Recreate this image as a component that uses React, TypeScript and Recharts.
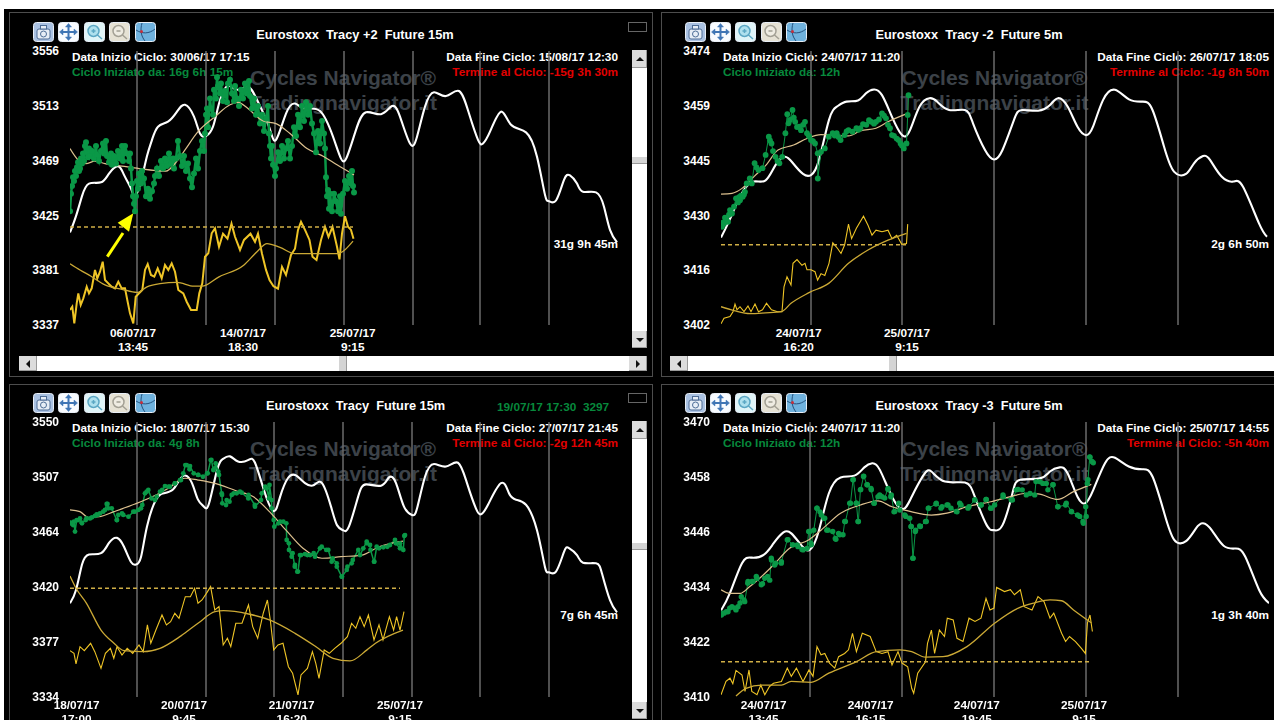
import { ComposedChart, Line, ReferenceLine, XAxis, YAxis } from "recharts";

type Pt = [number, number];

// panel 1: Tracy +2, 15m
const p1Ticks = ["3337", "3381", "3425", "3469", "3513", "3556"];
const p1Range = [3337, 3556];
const p1Grid = [67, 136, 205, 274, 343, 410, 479];
const p1BarTicks = [63, 173, 282.7];
const p1Dates = ["06/07/17", "14/07/17", "25/07/17"];
const p1Times = ["13:45", "18:30", "9:15"];
const p1Level = 3415.3;
const p1LevelEnd = 283;
const p1Cycle: Pt[] = [[0,3411],[6,3424],[12,3440],[19,3450],[31,3451],[39,3458],[48,3464],[54,3457],[61,3446],[65,3440],[71,3452],[77,3472],[82,3485],[88,3495.5],[98,3499.5],[107,3507.5],[115,3513],[124,3503.5],[130,3490],[136,3488],[143,3495.5],[149,3514],[155,3526],[160,3528],[168,3525],[178,3527.5],[187,3517],[199,3495.5],[206,3485],[216,3506],[225,3514],[235,3510],[250,3508],[263,3487.5],[271,3470],[277,3471.5],[286,3493],[296,3507],[311,3505.5],[322,3512],[330,3503.5],[340,3482],[347,3487.5],[355,3511.5],[364,3523],[376,3520],[389,3524],[399,3506],[408,3485],[413,3482],[420,3491.5],[431,3507.5],[441,3497],[456,3491],[467,3471.5],[475,3441],[479,3436],[486,3436.5],[494,3453],[500,3456.5],[507,3450],[513,3443.5],[526,3443],[534,3431.5],[540,3413],[547,3403]];
const p1Avg: Pt[] = [[0,3478],[8,3469],[16,3466],[25,3468],[35,3466],[52,3464],[69,3462],[96,3460],[105,3466],[115,3477],[128,3491.5],[145,3503.5],[160,3513],[168,3515],[178,3510],[193,3500],[206,3498],[220,3490],[237,3478],[254,3471.5],[267,3465],[284,3457]];
const p1SlowAvg: Pt[] = [[0,3386],[10,3381],[21,3376],[35,3369],[52,3365.5],[67,3363],[77,3367.5],[90,3370],[107,3371],[124,3368],[132,3368],[149,3375.5],[174,3385],[187,3395.5],[197,3402],[210,3399],[225,3394],[246,3394],[267,3394],[283,3404]];
const p1Osc: Pt[] = [[0,3349],[2.3,3351.6],[4.3,3338.3],[6.7,3354.3],[8.3,3362.3],[10.7,3353],[13.3,3358.3],[16.7,3367.6],[19,3362.3],[21.7,3366.3],[25,3381],[27.3,3374.3],[30,3379.6],[32.7,3387.6],[35,3373],[38.3,3370.3],[41.7,3367.6],[45,3366.3],[48.3,3371.6],[51.7,3366.3],[55,3366.3],[57.3,3357],[60,3346.3],[63.3,3338.3],[65.7,3359.6],[69,3362.3],[72.3,3365],[75,3381],[77.7,3385.7],[81,3377],[84.3,3375.6],[87.7,3382.3],[91.7,3374.3],[95,3385],[98.3,3381],[101.7,3386.3],[105,3379.6],[108.3,3365],[113.3,3362.3],[116.7,3355.6],[121,3349],[126.7,3349],[129.3,3362.3],[132.3,3370.3],[135,3391.6],[138.3,3394.3],[141.7,3410.3],[145,3414.3],[149,3399.5],[153,3410],[157.5,3406],[161.5,3418],[165,3407.5],[170,3397],[174,3405],[180.5,3410],[185,3403.5],[188,3410],[192,3394],[196,3381],[199.5,3373],[203.5,3368],[208,3366],[212,3383.5],[216,3377],[221,3393],[225,3398],[228,3413],[231,3419.5],[235,3413],[239.5,3405],[242.5,3391.5],[246.5,3389],[251,3405],[255,3415.5],[258.5,3407.5],[262.5,3415.5],[267,3399.5],[269.5,3389.5],[272,3410],[275,3424],[278,3415.5],[281,3413],[283.5,3406]];
const p1Price: Pt[] = [[0,3428],[1,3442],[2,3448],[3,3455],[4,3452],[5,3460],[6,3456],[7,3463],[8,3467],[9,3460],[10,3462],[11,3470],[12,3466],[13,3474],[14,3468],[15,3480],[16,3483],[17,3475],[18,3471],[19,3478],[20,3472],[22,3476],[24,3470],[26,3480],[27,3473],[29,3468],[31,3476],[33,3482],[34,3474],[36,3484],[37,3472],[39,3467],[41,3474],[42,3465],[44,3472],[46,3466],[48,3476],[50,3470],[52,3480],[53,3468],[55,3480],[57,3474],[59,3468],[60,3474],[61,3462],[62,3450],[63,3440],[64,3434],[65,3428],[66,3440],[67,3452],[68,3446],[69,3458],[71,3450],[72,3460],[74,3454],[76,3440],[78,3446],[80,3438],[82,3444],[84,3450],[85,3456],[87,3462],[89,3456],[91,3468],[93,3462],[95,3470],[97,3464],[99,3474],[101,3466],[103,3470],[104,3462],[106,3470],[108,3484],[110,3472],[112,3464],[114,3472],[116,3460],[118,3466],[120,3454],[122,3447],[124,3458],[126,3470],[128,3462],[130,3476],[132,3484],[134,3476],[135,3490],[136,3505],[137,3510],[138,3495],[140,3518],[141,3510],[143,3505],[144,3525],[146,3518],[147,3535],[148,3528],[150,3522],[151,3530],[153,3516],[155,3524],[157,3515],[158,3530],[160,3533],[162,3522],[164,3516],[165,3528],[167,3518],[169,3512],[171,3525],[173,3518],[175,3530],[177,3522],[179,3532],[180,3520],[182,3510],[184,3518],[186,3505],[188,3512],[190,3498],[192,3505],[194,3492],[196,3502],[198,3512],[199,3490],[200,3480],[201,3470],[202,3480],[203,3465],[205,3456],[206,3462],[208,3475],[210,3468],[212,3480],[214,3470],[216,3478],[218,3484],[220,3470],[222,3480],[224,3495],[226,3488],[228,3505],[230,3495],[232,3512],[234,3500],[236,3515],[238,3505],[240,3512],[242,3498],[244,3490],[246,3475],[248,3492],[250,3482],[252,3500],[254,3490],[255,3478],[256,3455],[257,3440],[258,3445],[259,3430],[260,3442],[262,3428],[264,3442],[266,3436],[268,3428],[270,3440],[271,3426],[273,3442],[275,3452],[277,3446],[279,3456],[281,3450],[282,3460],[283,3448],[284,3443]];

// panel 2: Tracy -2, 5m
const p2Ticks = ["3402", "3416", "3430", "3445", "3459", "3474"];
const p2Range = [3402, 3474];
const p2Grid = [90, 181, 273, 365, 457];
const p2BarTicks = [77.7, 186];
const p2Dates = ["24/07/17", "25/07/17"];
const p2Times = ["16:20", "9:15"];
const p2Level = 3423.1;
const p2LevelEnd = 185;
const p2Cycle: Pt[] = [[0,3425],[7,3428.7],[15,3433.5],[23,3437.5],[33,3439.7],[44.6,3440],[54.5,3444],[64,3446.2],[72,3444.5],[82,3441.7],[90,3441.4],[98,3445.4],[108,3455.9],[116,3459.4],[125.5,3460.7],[137,3461],[145,3462.9],[153,3463.9],[161,3462.4],[171,3456.7],[181,3451.9],[189,3453.2],[198.6,3459.4],[208.5,3461.6],[216,3460.7],[228,3458.5],[244,3458.5],[252,3455],[264,3448],[273,3445.5],[281.5,3448],[293,3455.9],[301,3458.5],[317,3458.3],[329,3459.8],[337,3461.6],[346.6,3459.4],[356.5,3454.1],[365,3451.9],[372,3454.1],[382,3461.1],[394,3463.8],[408,3461.3],[421.6,3460.7],[431.5,3458.5],[443,3448.9],[453,3442.3],[465,3441.7],[473,3444.5],[482,3446.4],[489,3445.4],[500.6,3441],[512.4,3439.7],[522,3438.3],[538,3428.7],[546,3425.2]];
const p2Avg: Pt[] = [[0,3436.4],[11,3436.6],[21,3437.9],[33,3441],[45,3444],[57,3448],[72.6,3449.3],[86,3451],[100,3452],[127.5,3451.7],[139.4,3453],[155,3453.7],[167,3455.4],[184.7,3457.4]];
const p2SlowAvg: Pt[] = [[0,3406.8],[13,3405.8],[29,3405],[44.6,3405.2],[60.4,3405.5],[70,3407.7],[88,3410.5],[108,3413],[127.5,3418.2],[147,3421.7],[167,3424.3],[185.5,3426.1]];
const p2Osc: Pt[] = [[0,3402.3],[3,3403.8],[9,3404.2],[12,3405.5],[14,3407.5],[16,3406],[19,3406.8],[23,3405.5],[27,3407],[30,3405.5],[34,3407.5],[37.5,3405.5],[41.5,3406],[45.5,3407.7],[50.5,3406],[56.5,3405.5],[61,3405.5],[63,3412],[66,3414.7],[70,3412.5],[72,3418.2],[76,3419.2],[81,3417.7],[84,3418.2],[86,3416.5],[90,3416.5],[94,3416],[96.6,3413.8],[100,3415.5],[103.8,3415],[108,3418.2],[111.8,3423.6],[116.6,3422.1],[120,3420.8],[123.6,3423],[127.5,3428.5],[130.6,3424.7],[135.4,3427.4],[142.5,3430.6],[147,3428.2],[151,3425.6],[155,3426.9],[161,3426.5],[167,3426.9],[171,3424.7],[175.7,3425.6],[180.8,3423.2],[185.5,3423.4],[186.7,3428.5]];
const p2Price: Pt[] = [[1,3427.8],[2,3428.9],[3,3428.7],[4,3430.2],[5,3430],[7,3429.1],[8,3431],[9,3432.2],[11,3431.3],[13,3433.1],[15,3435.3],[17,3434.2],[18,3435.6],[19,3434.8],[20,3436],[21.7,3435.7],[23,3436.3],[24,3437],[25.7,3439.2],[28.8,3440.5],[30.8,3439.2],[33.6,3444.5],[35.5,3443.4],[37.5,3442.7],[41.5,3443.2],[44.6,3446.7],[47.8,3451.5],[49,3450.5],[50.5,3449.7],[52,3447.7],[54.5,3446.2],[56.5,3445.1],[58.4,3444.5],[61.2,3446.2],[64.4,3452.4],[66.3,3457.4],[67.5,3455],[69,3455.9],[71.5,3458.5],[72.8,3456.5],[74.2,3455.4],[76,3454],[78.2,3454.1],[80,3453.2],[82,3454.6],[84,3455.4],[86,3452.4],[88,3451.6],[90,3450.6],[92,3450.3],[94,3449.7],[96.7,3447.1],[96.8,3440.5],[100,3447.5],[103.8,3448.4],[107.8,3451.5],[111.7,3452.4],[113.7,3451.8],[115.7,3452.4],[117.6,3451.4],[119.6,3450.6],[123.6,3451.9],[125.6,3452.9],[127.5,3453.2],[131.5,3452.8],[135.4,3453.7],[137.4,3453.3],[139.4,3453.7],[142,3454.8],[145.3,3454.6],[148,3455.8],[150.4,3455.4],[153,3454.9],[155,3455.4],[158,3456],[161,3457.6],[163,3457],[165,3456.3],[167,3454.6],[169,3453.7],[171,3451.9],[173,3451.7],[175.7,3451],[177.6,3450.6],[179.6,3449.7],[181,3449.2],[182.8,3448.4],[185.5,3449.7],[186.7,3457.2],[187.5,3462.4]];

// panel 3: Tracy, 15m
const p3Ticks = ["3334", "3377", "3420", "3464", "3507", "3550"];
const p3Range = [3334, 3550];
const p3Grid = [67, 136, 204, 273, 342, 410, 479];
const p3BarTicks = [6.6, 114, 221.7, 330];
const p3Dates = ["18/07/17", "20/07/17", "21/07/17", "25/07/17"];
const p3Times = ["17:00", "9:45", "16:20", "9:15"];
const p3Level = 3419.4;
const p3LevelEnd = 330;
const p3Cycle: Pt[] = [[0,3407.6],[6,3418],[12,3438],[19,3446],[31,3447],[39,3455],[47,3459],[54,3452],[61,3440],[66,3438],[71,3444],[77,3468],[86,3489],[94,3494],[103,3497],[109,3504],[115,3508],[122,3502],[128,3489],[134,3483.5],[139,3486],[147,3512],[153,3521],[160,3523],[168,3519],[178,3520],[185,3518],[195,3494],[204,3480],[210,3491],[218,3506],[226,3508],[235,3502],[244,3500.5],[252,3502],[261,3483.5],[267,3469],[273,3465],[279,3468],[288,3491],[296,3501],[311,3500],[319,3506.5],[326,3502],[334,3483.5],[342,3477],[347,3482],[355,3507],[364,3517],[376,3515],[388,3518],[397,3502],[406,3482],[411,3477.5],[418,3485],[431,3502],[439,3494],[446,3489],[456,3485],[467,3465],[475,3436],[479,3432],[486,3432.5],[494,3448],[499,3451],[507,3445.5],[513,3439.5],[526,3439],[532,3431],[540,3410],[547,3400.5]];
const p3Avg: Pt[] = [[0,3481],[10,3479.6],[18.5,3475],[29,3475.6],[44,3479.6],[65,3485.6],[86,3492.7],[98.5,3498],[115,3505.8],[128,3504.4],[145,3501.8],[166,3496],[183,3491.4],[199.5,3479.6],[216,3465],[233,3450.8],[252,3443],[271,3444.2],[292,3445.5],[309,3452],[333,3456.5]];
const p3SlowAvg: Pt[] = [[0,3429],[6,3419.4],[16.5,3407.6],[31,3386.6],[44,3376.2],[54,3370.4],[73.2,3369.6],[90,3372.2],[111,3382],[128,3391.9],[145,3401],[153.5,3401.8],[178.5,3399.2],[199.5,3394.5],[225,3384],[246,3373.5],[263,3364.4],[280,3362.3],[297,3371],[305.5,3376.2],[333,3386.6]];
const p3Osc: Pt[] = [[0,3370.4],[4,3368.3],[6,3360],[10,3373.5],[14.3,3370.4],[20.6,3376.2],[24.8,3369.6],[31,3356.5],[35.4,3368.3],[40.4,3372.2],[43.8,3364.4],[47,3373.5],[52,3367],[57.2,3372.2],[62.7,3368.3],[69,3374.9],[73.2,3369.6],[77.4,3390.6],[80.8,3376.2],[85.9,3386.6],[92,3398.4],[96.4,3390.6],[100.6,3393.2],[104.8,3399.7],[109,3395.8],[115.3,3412.8],[120.4,3412.8],[124.6,3419.4],[128,3407.6],[132,3410.2],[136.4,3415.4],[140.6,3420.7],[144.8,3402.3],[149,3405],[153.2,3374.9],[157.4,3380.1],[160.8,3373.5],[165.8,3391.9],[172,3391.9],[178.5,3406.3],[182.7,3389.3],[187.7,3380.1],[193.2,3399.7],[197.4,3410.2],[200.3,3394.5],[203.7,3370.9],[208,3374.9],[213,3376.2],[218.4,3357.8],[222.6,3352.6],[228,3335.6],[231,3351.3],[237.4,3356.5],[242.4,3369.6],[245.8,3360.5],[249,3348.7],[254.2,3370.9],[259.3,3368.3],[264.7,3372.2],[271,3376.2],[277.4,3381.4],[281.6,3391.9],[285.8,3388],[290,3397.1],[294.2,3389.3],[298.4,3398.4],[304,3378.8],[309,3390.6],[313,3378.8],[319.4,3397.1],[323.6,3386.6],[326.6,3397.1],[330,3386.6],[334,3401]];
const p3Price: Pt[] = [[1,3470.4],[4,3471.7],[5,3463.9],[8,3473],[12,3470.4],[16.4,3474.3],[22,3475.1],[27.8,3477],[33.2,3479.6],[37.5,3485.6],[41.7,3482.2],[47,3473],[52,3478.3],[58.5,3475.6],[64.8,3479.6],[71,3482.2],[76.6,3495.3],[81.6,3490],[86.7,3491.4],[92.2,3496.6],[98.5,3499.2],[104.8,3501.8],[111,3504.4],[115.3,3516.2],[119.5,3512.8],[123.7,3509.7],[128,3508.4],[133,3507],[137.2,3509.7],[141.4,3520.2],[144.8,3513.6],[149,3508.4],[152,3492.7],[156,3484.8],[159.5,3487.4],[163.7,3494],[170,3495.3],[178.5,3492.7],[184.8,3484.8],[191,3488.7],[195.3,3499.2],[199.5,3500.5],[201.6,3488.7],[203.7,3473],[210,3471.7],[216.3,3470.4],[218.9,3454.7],[222.6,3446.9],[224.8,3436.4],[228,3432.5],[231,3445.5],[237.4,3445.5],[243.7,3446.9],[250,3450.8],[256.3,3449.5],[262.6,3442.9],[266.8,3436.4],[272,3428.5],[277.4,3436.4],[282.8,3441.6],[290,3445.5],[297,3454.7],[300.5,3449.5],[304,3440.3],[309,3450.8],[317.3,3452],[325.8,3454.7],[330,3450.8],[333.3,3449.5],[335,3461.2]];
const p3PriceFine: Pt[] = [[1,3471],[3.3,3469],[6.7,3473],[10,3474.3],[11.7,3471],[15.7,3473],[20,3474.3],[25,3476.2],[26.7,3477.5],[30,3478.3],[35,3480.9],[36.7,3485.6],[38.3,3482.2],[46.7,3473],[48.3,3477],[53.3,3477],[63.3,3479.6],[68.3,3480.9],[72.3,3484.8],[75,3494],[78.3,3496.6],[85,3488.7],[90,3495.3],[95,3499.7],[100,3499.2],[105,3501.8],[110,3504.4],[113.3,3509.7],[116.7,3516.2],[120,3515.4],[128.3,3508.4],[137.7,3509.7],[140.7,3520.1],[143.3,3512.3],[145.7,3517.5],[148.3,3511],[151.7,3494],[152.3,3486.1],[156.7,3488.7],[161.7,3492.7],[166.7,3494],[171.7,3494.5],[178.3,3490],[185,3483.5],[191.7,3494],[196.7,3497.9],[199,3490],[201.7,3482.2],[204.3,3467.8],[208.3,3470.4],[213.3,3471.7],[216.7,3457.3],[219,3449.5],[221.7,3444.2],[225,3437.7],[227.3,3432.4],[230,3445.5],[235,3446.3],[240,3445.5],[245,3444.2],[251.7,3452.1],[258.3,3449.5],[261.7,3440.3],[266.7,3439],[271.7,3428.5],[276.7,3433.8],[281.7,3439],[288.3,3449.5],[293.3,3450.8],[296.7,3456],[300,3453.4],[304.3,3440.3],[306.7,3452.1],[313.3,3451.6],[320,3453.4],[325,3457.3],[330,3454.7],[334.3,3460.5]];

// panel 4: Tracy -3, 5m
const p4Ticks = ["3410", "3422", "3434", "3446", "3458", "3470"];
const p4Range = [3410, 3470];
const p4Grid = [89, 181, 273, 365, 457];
const p4BarTicks = [42.6, 149.6, 255.8, 363];
const p4Dates = ["24/07/17", "24/07/17", "24/07/17", "25/07/17"];
const p4Times = ["13:45", "16:15", "19:45", "9:15"];
const p4Level = 3417.7;
const p4LevelEnd = 370;
const p4Cycle: Pt[] = [[0,3428.9],[9,3432.7],[21,3439.2],[30.8,3440.4],[42.6,3441],[52.5,3443.5],[62.4,3445.9],[70.3,3445.7],[80,3443.2],[88.8,3442.1],[98,3446.4],[107.8,3454.4],[119.6,3457.9],[133.4,3458.3],[143.3,3460.1],[151.2,3461],[159,3459.5],[171,3453.7],[182,3451],[190.7,3453.7],[202.5,3458.4],[210.4,3459.2],[224,3457],[244,3456.8],[253.8,3453.7],[265.7,3447.5],[272.8,3446.4],[281.5,3447.5],[291.4,3454.4],[299.2,3457.4],[319,3457.7],[329,3459.2],[338.7,3460.1],[346.6,3458.8],[356.5,3453.7],[364.4,3452.3],[372.3,3455.2],[384,3461],[394,3462.2],[407.8,3460.3],[421.6,3459.7],[431.5,3458.1],[443.3,3450.1],[453.2,3444.3],[465,3444],[475,3446.8],[482,3447.9],[490.7,3446.4],[502.6,3443],[514.4,3442.4],[524.3,3440.6],[538,3433.4],[548,3430.5]];
const p4Avg: Pt[] = [[0,3433.4],[9,3432.6],[19,3432.6],[28.8,3434.1],[40.6,3436.3],[52.5,3438.8],[68.3,3442.4],[88,3444.3],[100,3446.4],[119.6,3450.1],[139.4,3451.9],[157,3452.8],[171,3451.5],[187,3450.6],[210.4,3449.7],[226,3450.1],[246,3451.5],[269.7,3452.6],[289.4,3453.7],[303.2,3454.4],[317,3454.3],[336.7,3453.1],[352.5,3454.8],[370.3,3456.4]];
const p4SlowAvg: Pt[] = [[15,3410.2],[25,3411.9],[40.6,3412.6],[60.4,3412.6],[70.3,3413.4],[90,3413.2],[107.8,3415.2],[135.4,3417.7],[155.2,3419.9],[178.8,3420.3],[190.7,3419.9],[204.5,3418.7],[222,3418.8],[246,3421],[273.6,3426.1],[297.3,3429.4],[313,3430.5],[329,3431.2],[340.6,3431],[352.5,3429],[370.3,3426.2]];
const p4Osc: Pt[] = [[0,3410.5],[5,3413.4],[9,3414.1],[11.8,3412.9],[15,3415.8],[21,3414.8],[24,3411.2],[28,3415.9],[30.8,3411.2],[36,3410.5],[39.8,3412.6],[43.8,3410.5],[48.5,3412.3],[52.5,3413],[60.4,3413.4],[66.3,3416.3],[70.3,3414.5],[75.4,3416.3],[82,3413.4],[88,3415.9],[92,3414.5],[96,3421],[100,3419.2],[103.8,3419.5],[108.5,3417.4],[113.7,3416.3],[117.6,3418.8],[123.6,3419.5],[127.5,3420.3],[131.5,3423.9],[135.4,3419.9],[141.3,3423.9],[149.2,3423.2],[155.2,3419.9],[161,3419.5],[167,3419.9],[171,3417],[177,3419.9],[181,3417.4],[186.7,3416.6],[190.7,3411.9],[192.7,3410.8],[196.7,3415.2],[204.5,3417.7],[206.5,3421.7],[210.4,3424.6],[213.6,3419.5],[218.4,3424.6],[223.5,3423.2],[226.3,3427.2],[232.2,3426.8],[236,3422.8],[242,3422.1],[248,3427.2],[254,3426.5],[260,3427.2],[265,3431.5],[269,3429],[273,3429.4],[275.6,3433.9],[283.5,3433],[289.4,3433.4],[293.4,3432.3],[299.3,3433.4],[303.2,3429.7],[311,3429],[317,3431.9],[323,3430.8],[329,3427.2],[332.8,3428.3],[340.6,3423.9],[344.6,3422.1],[348.5,3423.2],[354.5,3422.1],[360.4,3420.6],[364.4,3419.5],[366.4,3426.1],[369,3427.9],[371.4,3424.3]];
const p4Price: Pt[] = [[0.4,3427.9],[3,3428.3],[7,3428.6],[11,3429.7],[15,3429],[19,3430.5],[23,3431.2],[26.8,3434.8],[30.8,3435.2],[36,3435.9],[41.5,3434.7],[46.6,3436.3],[50.5,3439.9],[54.5,3439.2],[60.4,3439.5],[66.3,3444.3],[71.5,3443.2],[76.2,3443.2],[81,3442.2],[86,3442.4],[88.8,3446.1],[90,3443.5],[92.8,3446.4],[96,3451.2],[99,3450.4],[103,3449],[105.8,3446.4],[111.7,3446.1],[114.9,3444.4],[117.6,3445.7],[122,3445.4],[124.4,3448.3],[129.5,3452.3],[132.3,3457.4],[135.4,3452.3],[137.4,3448.3],[139.4,3455.2],[142.5,3458.1],[146,3456.3],[150,3455.5],[153.2,3452.3],[157,3453.7],[161,3453.7],[167,3455.5],[169.8,3453.7],[173,3450.4],[178.8,3450.8],[184.8,3449.4],[190,3447.2],[191.9,3440.3],[194.6,3446.4],[199.4,3447.2],[204.5,3448.3],[207.3,3451.2],[215,3452.1],[220,3451.2],[226,3451.9],[230,3451.2],[236,3450.4],[240,3451.9],[248,3451.5],[253.8,3453],[259.8,3451.9],[265,3453.1],[269.6,3451.2],[273.6,3451.9],[282.3,3453.7],[291.4,3453],[295.3,3455.2],[301.2,3455.2],[309,3454.4],[315,3457],[321.8,3456.6],[326.9,3455.2],[332,3456.3],[336.8,3451.5],[344.6,3451.9],[350.6,3450.4],[356.5,3449.7],[362.4,3447.9],[365.2,3449.4],[367,3457.4],[369,3462.3],[372.3,3461.1]];
const p4PriceFine: Pt[] = [[1,3428.3],[5.3,3428.6],[8.7,3429.4],[13.7,3429.4],[17,3429.7],[20.3,3431.9],[23.7,3430.8],[27,3435.2],[32,3435.2],[35.3,3436.3],[40.3,3434.5],[43.7,3435.9],[48.7,3435.5],[50.3,3440.3],[53.7,3438.8],[60.3,3439.2],[67,3444.3],[72,3443.2],[77,3442.8],[82,3442.1],[87.7,3446.1],[90.3,3443.2],[96,3451.2],[100.3,3449.7],[103.7,3449],[107,3446.4],[114.3,3444.6],[118.7,3445.4],[123.7,3448.3],[128.7,3452.3],[132,3457.4],[135.3,3452.3],[137,3448.3],[139.7,3455.3],[142.7,3458.2],[146.3,3456.3],[150.3,3455.2],[153,3452.3],[158.7,3454.1],[163.7,3453.4],[167,3455.3],[170.3,3454.1],[173.7,3450.5],[177.7,3452.3],[183.7,3449.7],[188.7,3449],[190.3,3447.2],[192,3440.3],[194.3,3446.1],[198.7,3447.3],[205.3,3448.3],[207.7,3451.2],[215.3,3452.3],[221,3451.5],[227,3451.9],[235.3,3450.5],[238.7,3452.3],[247,3451.2],[253.7,3453],[260.3,3451.9],[265.3,3453.1],[270.3,3451.2],[282,3454.1],[290.3,3453],[297,3455.3],[305.3,3454.1],[313.7,3454.1],[318.7,3457],[325.3,3456.6],[332,3456.3],[337,3451.5],[345.3,3452.3],[350.3,3450.5],[358.7,3449.4],[362,3448.3],[364.7,3451.5],[366.3,3456.6],[368.7,3462.4],[371,3461.4]];

const FONT = "'Liberation Sans', Arial, sans-serif";
const GREEN = "#0a9847";
const rows = (pts: Pt[]) => pts.map(([t, v]) => ({ t, v }));
const byBar = (a: Pt[], b: Pt[]) => [...a, ...b].sort((p, q) => p[0] - q[0]);

function Label({ x, y, align = "left", color = "#fff", size = 11.8, weight = 700, children }: any) {
  const shift = align === "right" ? "-100%" : align === "center" ? "-50%" : "0";
  return (
    <div
      style={{
        position: "absolute",
        left: x,
        top: y,
        transform: `translate(${shift}, -50%)`,
        color,
        fontFamily: FONT,
        fontSize: size,
        fontWeight: weight,
        whiteSpace: "pre",
        lineHeight: 1,
      }}
    >
      {children}
    </div>
  );
}

function Box({ x, y, w, h, style }: any) {
  return <div style={{ position: "absolute", left: x, top: y, width: w, height: h, boxSizing: "border-box", ...style }} />;
}

function Toolbar({ x, y }: { x: number; y: number }) {
  const w = 21;
  const h = 20;
  const tile = (i: number, bg: string, content: any) => (
    <svg key={i} width={w} height={h} style={{ position: "absolute", left: x + i * 25.4, top: y }}>
      <rect x={0.5} y={0.5} width={w - 1} height={h - 1} rx={3} fill={bg} stroke="#e8eef6" />
      {content}
    </svg>
  );
  return (
    <>
      {tile(0, "#a9c1e2", (
        <g fill="#e6edf6" stroke="#4e6d96">
          <rect x={4} y={7} width={13} height={10} rx={2} />
          <rect x={7.5} y={3.5} width={6} height={3.5} />
          <circle cx={10.5} cy={12} r={3} />
        </g>
      ))}
      {tile(1, "#f8fbff", (
        <g stroke="#3f75b5" strokeWidth={2} fill="#3f75b5">
          <path d="M10.5 3V17M3 10H18" />
          <path d="M10.5 1.5L7.5 5H13.5ZM10.5 18.5L7.5 15H13.5ZM1.5 10L5 7V13ZM19.5 10L16 7V13Z" strokeWidth={0.5} />
        </g>
      ))}
      {tile(2, "#dff4f8", (
        <g fill="#aee0ee" stroke="#5ba7c4" strokeWidth={1.5}>
          <circle cx={9.5} cy={9} r={5.5} />
          <path d="M13.5 13L18 17M7.5 9H11.5M9.5 7V11" fill="none" />
        </g>
      ))}
      {tile(3, "#e6e2d4", (
        <g fill="#efece2" stroke="#a3a094" strokeWidth={1.5}>
          <circle cx={9.5} cy={9} r={5.5} />
          <path d="M13.5 13L18 17M7.5 9H11.5" fill="none" />
        </g>
      ))}
      {tile(4, "#6fb2de", (
        <g fill="none" stroke="#24527f" strokeWidth={1}>
          <path d="M7 1C5 8 6 14 10 19M1 8C7 12 14 12 20 7" />
          <circle cx={6.5} cy={9.5} r={1.5} fill="#c8303c" stroke="none" />
        </g>
      ))}
    </>
  );
}

function Scroll({ x, y, w, h, vertical, thumb, left }: any) {
  const button = { background: "#dcdcdc", borderBottom: "1px solid #999", borderRight: "1px solid #999" };
  const arrow = (cx: number, cy: number, d: string, key: string) => (
    <svg key={key} width={8} height={8} style={{ position: "absolute", left: cx - 4, top: cy - 4 }}>
      <path d={d} fill="#111" />
    </svg>
  );
  if (vertical) {
    return (
      <>
        <Box x={x} y={y} w={w} h={h} style={{ background: "#fff" }} />
        <Box x={x} y={y} w={w} h={18} style={button} />
        <Box x={x} y={y + h - 17} w={w} h={17} style={button} />
        <Box x={x} y={thumb} w={w} h={7} style={{ background: "#d4d4d4", borderBottom: "1px solid #999" }} />
        {arrow(x + w / 2, y + 9, "M4 2L8 6H0Z", "up")}
        {arrow(x + w / 2, y + h - 8, "M4 6L8 2H0Z", "down")}
      </>
    );
  }
  return (
    <>
      <Box x={x} y={y} w={w} h={h} style={{ background: "#fff" }} />
      <Box x={x} y={y} w={18} h={h} style={button} />
      {arrow(x + 9, y + h / 2, "M2 4L6 0V8Z", "left")}
      {left ? null : <Box x={x + w - 18} y={y} w={18} h={h} style={button} />}
      {left ? null : arrow(x + w - 9, y + h / 2, "M6 4L2 0V8Z", "right")}
      <Box x={thumb} y={y} w={8} h={h} style={{ background: "#d4d4d4", borderRight: "1px solid #999" }} />
    </>
  );
}

function CyclePanel(props: any) {
  const { left, top, width, height, axisWidth, marginTop, marginRight, ticks, range, grid, barTicks, dates, times, level, levelEnd, cycle, avg, slowAvg, osc, price, dotR, priceWidth, oscWidth } = props;
  const dashed = [{ t: 0, v: level }, { t: levelEnd, v: level }];
  const tickAt = ticks.map((_: string, i: number) => range[0] + (i * (range[1] - range[0])) / (ticks.length - 1));
  const renderTick = (p: any) => {
    const i = barTicks.indexOf(p.payload.value);
    return (
      <g>
        <text x={p.x} y={p.y + 3.5} textAnchor="middle" fill="#fff" fontFamily={FONT} fontSize={11.8} fontWeight={700}>{dates[i]}</text>
        <text x={p.x} y={p.y + 18} textAnchor="middle" fill="#fff" fontFamily={FONT} fontSize={11.8} fontWeight={700}>{times[i]}</text>
      </g>
    );
  };
  return (
    <div style={{ position: "absolute", left, top }}>
      <ComposedChart width={width} height={height} margin={{ top: marginTop, right: marginRight, bottom: 11, left: 0 }}>
        <XAxis
          dataKey="t"
          type="number"
          domain={[0, 548]}
          ticks={barTicks}
          interval={0}
          tick={renderTick}
          axisLine={false}
          tickLine={false}
          height={40}
          allowDataOverflow
        />
        <YAxis
          type="number"
          width={axisWidth}
          domain={range}
          ticks={tickAt}
          interval={0}
          axisLine={false}
          tickLine={false}
          tickMargin={5}
          tickFormatter={(_v: number, i: number) => ticks[i]}
          tick={{ fill: "#fff", fontFamily: FONT, fontSize: 12, fontWeight: 700 }}
          allowDataOverflow
        />
        {grid.map((g: number) => (
          <ReferenceLine key={g} x={g} stroke="#6b6b6b" strokeWidth={1.5} />
        ))}
        <Line data={rows(cycle)} dataKey="v" type="natural" stroke="#fff" strokeWidth={2.1} dot={false} isAnimationActive={false} />
        <Line data={rows(osc)} dataKey="v" type="linear" stroke="#efc526" strokeWidth={oscWidth} dot={false} isAnimationActive={false} />
        <Line data={dashed} dataKey="v" type="linear" stroke="#cfae45" strokeWidth={1.5} strokeDasharray="4 3" dot={false} isAnimationActive={false} />
        <Line data={rows(slowAvg)} dataKey="v" type="monotone" stroke="#cba935" strokeWidth={1.3} dot={false} isAnimationActive={false} />
        <Line data={rows(price)} dataKey="v" type="linear" stroke={GREEN} strokeWidth={priceWidth} dot={{ r: dotR, fill: GREEN, stroke: "none" }} isAnimationActive={false} />
        <Line data={rows(avg)} dataKey="v" type="monotone" stroke="#dcc08e" strokeWidth={1.2} dot={false} isAnimationActive={false} />
      </ComposedChart>
    </div>
  );
}

function PanelText(props: any) {
  const { plotLeft, plotRight, y, mark, title, start, age, end, remain, total } = props;
  const ink = "#3c4248";
  return (
    <>
      <Label x={mark} y={y + 26} align="center" color={ink} size={21}>Cycles Navigator®</Label>
      <Label x={mark} y={y + 51} align="center" color={ink} size={21}>Tradingnavigator.it</Label>
      <Label x={title.x} y={y - 16} align="center" size={12.8}>{title.text}</Label>
      <Label x={plotLeft + 2} y={y + 7}>{start}</Label>
      <Label x={plotLeft + 2} y={y + 22} color="#07893c">{age}</Label>
      <Label x={plotRight} y={y + 7} align="right">{end}</Label>
      <Label x={plotRight} y={y + 22} align="right" color="#e30000">{remain}</Label>
      <Label x={plotRight} y={y + 194} align="right">{total}</Label>
    </>
  );
}

export default function App() {
  const frame = { border: "1.5px solid #4d4d4d" };
  return (
    <div style={{ position: "absolute", left: 0, top: 0, width: 1274, height: 720, overflow: "hidden", background: "#fff" }}>
      <div style={{ position: "absolute", left: 0, top: 0, width: 1274, height: 720, filter: "blur(0.4px)" }}>
        <Box x={4} y={9} w={1270} h={711} style={{ background: "#000" }} />
        <Box x={9} y={12} w={644} h={365} style={frame} />
        <Box x={661} y={12} w={640} h={365} style={frame} />
        <Box x={9} y={384} w={644} h={360} style={frame} />
        <Box x={661} y={384} w={640} h={360} style={frame} />
        <Box x={628} y={22} w={19} h={10} style={{ border: "1px solid #666" }} />
        <Box x={628} y={393} w={19} h={10} style={{ border: "1px solid #666" }} />

        <Toolbar x={33} y={22} />
        <Toolbar x={684.5} y={22} />
        <Toolbar x={33} y={393} />
        <Toolbar x={684.5} y={393} />

        <PanelText plotLeft={70} plotRight={618} y={51} mark={343} title={{ x: 355, text: "Eurostoxx  Tracy +2  Future 15m" }} start="Data Inizio Ciclo: 30/06/17 17:15" age="Ciclo Iniziato da: 16g 6h 15m" end="Data Fine Ciclo: 15/08/17 12:30" remain="Termine al Ciclo: -15g 3h 30m" total="31g 9h 45m" />
        <PanelText plotLeft={721} plotRight={1269} y={51} mark={994.5} title={{ x: 969, text: "Eurostoxx  Tracy -2  Future 5m" }} start="Data Inizio Ciclo: 24/07/17 11:20" age="Ciclo Iniziato da: 12h" end="Data Fine Ciclo: 26/07/17 18:05" remain="Termine al Ciclo: -1g 8h 50m" total="2g 6h 50m" />
        <PanelText plotLeft={70} plotRight={618} y={422} mark={343} title={{ x: 355.6, text: "Eurostoxx  Tracy  Future 15m" }} start="Data Inizio Ciclo: 18/07/17 15:30" age="Ciclo Iniziato da: 4g 8h" end="Data Fine Ciclo: 27/07/17 21:45" remain="Termine al Ciclo: -2g 12h 45m" total="7g 6h 45m" />
        <PanelText plotLeft={721} plotRight={1269} y={422} mark={994.5} title={{ x: 969, text: "Eurostoxx  Tracy -3  Future 5m" }} start="Data Inizio Ciclo: 24/07/17 11:20" age="Ciclo Iniziato da: 12h" end="Data Fine Ciclo: 25/07/17 14:55" remain="Termine al Ciclo: -5h 40m" total="1g 3h 40m" />
        <Label x={497} y={408} color="#07893c">19/07/17 17:30  3297</Label>

        <CyclePanel left={10} top={13} width={642} height={363} axisWidth={60} marginTop={38} marginRight={34} ticks={p1Ticks} range={p1Range} grid={p1Grid} barTicks={p1BarTicks} dates={p1Dates} times={p1Times} level={p1Level} levelEnd={p1LevelEnd} cycle={p1Cycle} avg={p1Avg} slowAvg={p1SlowAvg} osc={p1Osc} price={p1Price} dotR={3} priceWidth={2.5} oscWidth={2} />
        <CyclePanel left={662} top={13} width={640} height={363} axisWidth={59} marginTop={38} marginRight={33} ticks={p2Ticks} range={p2Range} grid={p2Grid} barTicks={p2BarTicks} dates={p2Dates} times={p2Times} level={p2Level} levelEnd={p2LevelEnd} cycle={p2Cycle} avg={p2Avg} slowAvg={p2SlowAvg} osc={p2Osc} price={p2Price} dotR={2.9} priceWidth={1} oscWidth={1.1} />
        <CyclePanel left={10} top={385} width={642} height={363} axisWidth={60} marginTop={37} marginRight={34} ticks={p3Ticks} range={p3Range} grid={p3Grid} barTicks={p3BarTicks} dates={p3Dates} times={p3Times} level={p3Level} levelEnd={p3LevelEnd} cycle={p3Cycle} avg={p3Avg} slowAvg={p3SlowAvg} osc={p3Osc} price={byBar(p3Price, p3PriceFine)} dotR={2.4} priceWidth={1.5} oscWidth={1.1} />
        <CyclePanel left={662} top={385} width={640} height={363} axisWidth={59} marginTop={37} marginRight={33} ticks={p4Ticks} range={p4Range} grid={p4Grid} barTicks={p4BarTicks} dates={p4Dates} times={p4Times} level={p4Level} levelEnd={p4LevelEnd} cycle={p4Cycle} avg={p4Avg} slowAvg={p4SlowAvg} osc={p4Osc} price={byBar(p4Price, p4PriceFine)} dotR={2.7} priceWidth={1} oscWidth={1.1} />

        <svg width={60} height={60} style={{ position: "absolute", left: 95, top: 205 }}>
          <path d="M12.3 51.7L28 28" stroke="#ffff00" strokeWidth={3} fill="none" />
          <path d="M38.3 8.3L22.7 17.7L34 26.7Z" fill="#ffff00" />
        </svg>

        <Scroll vertical x={632} y={50} w={15} h={298} thumb={157} />
        <Scroll x={19} y={356} w={628} h={15} thumb={339} />
        <Scroll left x={670} y={356} w={604} h={15} thumb={889} />
        <Scroll vertical x={632} y={421} w={15} h={298} thumb={543} />
      </div>
    </div>
  );
}
